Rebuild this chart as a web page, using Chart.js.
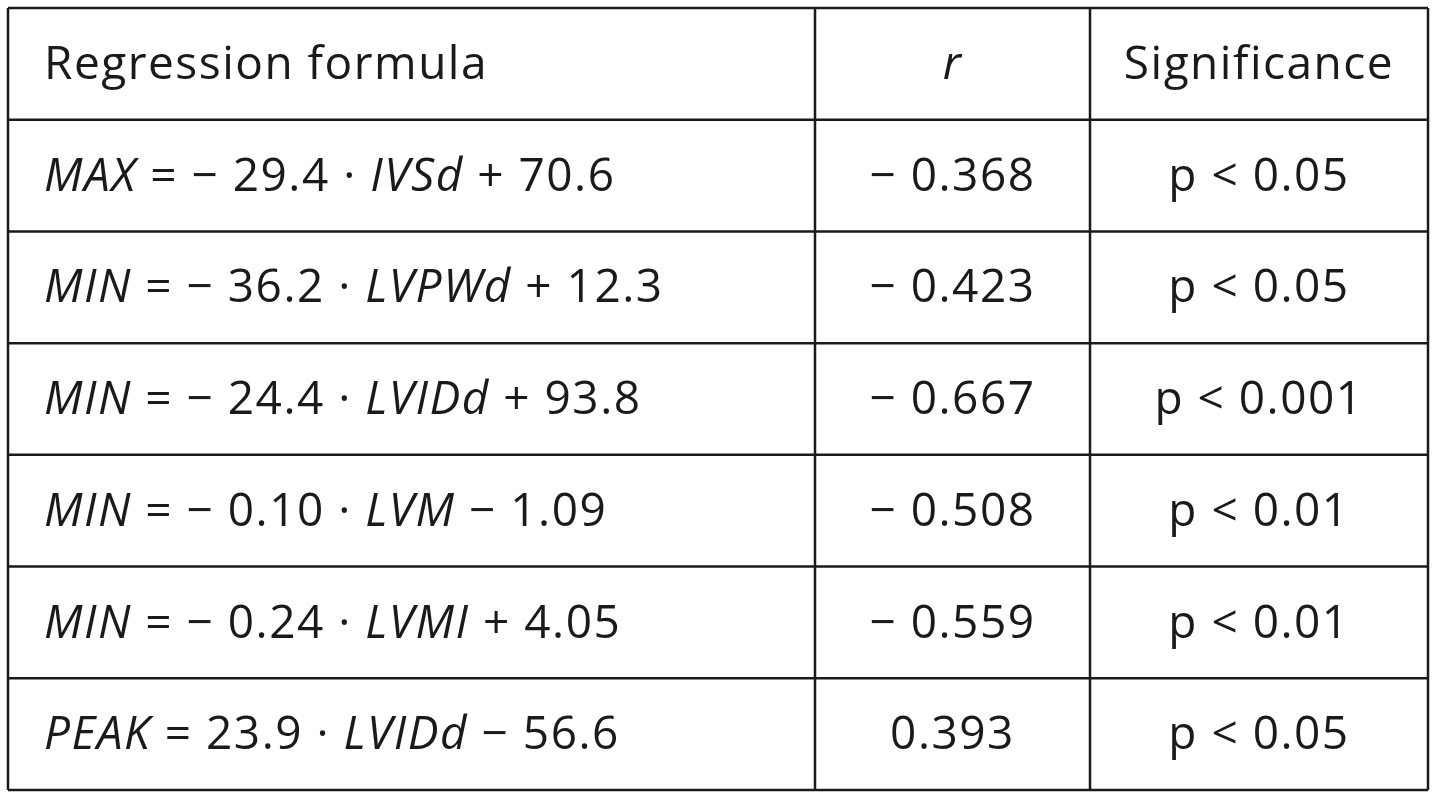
<!DOCTYPE html>
<html>
<head>
<meta charset="utf-8">
<script src="https://cdn.jsdelivr.net/npm/chart.js@4.4.1/dist/chart.umd.min.js"></script>
<style>
  html, body { margin: 0; padding: 0; background: #fff; }
  #wrap { width: 1437px; height: 800px; }
</style>
</head>
<body>
<div id="wrap"><canvas id="c"></canvas></div>
<script>
// table content; segments flagged true are italic
const headers = [[['Regression formula', false]], [['r', true]], [['Significance', false]]];
const formulas = [
  [['MAX', true], [' = − 29.4 · ', false], ['IVSd', true], [' + 70.6', false]],
  [['MIN', true], [' = − 36.2 · ', false], ['LVPWd', true], [' + 12.3', false]],
  [['MIN', true], [' = − 24.4 · ', false], ['LVIDd', true], [' + 93.8', false]],
  [['MIN', true], [' = − 0.10 · ', false], ['LVM', true], [' − 1.09', false]],
  [['MIN', true], [' = − 0.24 · ', false], ['LVMI', true], [' + 4.05', false]],
  [['PEAK', true], [' = 23.9 · ', false], ['LVIDd', true], [' − 56.6', false]]
];
const rValues = ['− 0.368', '− 0.423', '− 0.667', '− 0.508', '− 0.559', '0.393'];
const significance = ['p < 0.05', 'p < 0.05', 'p < 0.001', 'p < 0.01', 'p < 0.01', 'p < 0.05'];

const rowLabels = ['header'].concat(formulas.map((f, i) => 'row' + i));
const colEdges = [0, 807, 1082, 1420];
const FONT = '"Open Sans", "Noto Sans", sans-serif';
const SIZE = 46;
const SPACING = '1.5px';

function setFont(ctx, it) {
  ctx.font = (it ? 'italic ' : '') + SIZE + 'px ' + FONT;
  ctx.letterSpacing = SPACING;
}
function segWidth(ctx, segs) {
  let w = 0;
  segs.forEach(([t, it]) => { setFont(ctx, it); w += ctx.measureText(t).width; });
  return w;
}
function drawSegs(ctx, segs, x, y) {
  segs.forEach(([t, it]) => {
    setFont(ctx, it);
    ctx.fillText(t, x, y);
    x += ctx.measureText(t).width;
  });
}

const tablePlugin = {
  id: 'table',
  afterDraw(chart) {
    const ctx = chart.ctx, xs = chart.scales.x, ys = chart.scales.y;
    const step = ys.getPixelForValue(1) - ys.getPixelForValue(0);
    const xe = colEdges.map(v => xs.getPixelForValue(v));
    ctx.save();
    ctx.strokeStyle = '#1a1a1a';
    ctx.lineWidth = 2.5;
    for (let i = 0; i <= rowLabels.length; i++) {
      const y = ys.getPixelForValue(0) - step / 2 + i * step;
      ctx.beginPath(); ctx.moveTo(xe[0], y); ctx.lineTo(xe[3], y); ctx.stroke();
    }
    const top = ys.getPixelForValue(0) - step / 2, bot = top + step * rowLabels.length;
    xe.forEach(x => { ctx.beginPath(); ctx.moveTo(x, top); ctx.lineTo(x, bot); ctx.stroke(); });

    ctx.fillStyle = '#1a1a1a';
    ctx.textBaseline = 'middle';
    ctx.textAlign = 'left';
    const rows = [headers].concat(formulas.map((f, i) => [f, [[rValues[i], false]], [[significance[i], false]]]));
    rows.forEach((row, i) => {
      const y = ys.getPixelForValue(i) + 2;
      drawSegs(ctx, row[0], xe[0] + 36, y);
      for (let c = 1; c < 3; c++) {
        const w = segWidth(ctx, row[c]);
        drawSegs(ctx, row[c], (xe[c] + xe[c + 1]) / 2 - w / 2, y);
      }
    });
    ctx.restore();
  }
};

new Chart(document.getElementById('c'), {
  type: 'scatter',
  data: { labels: rowLabels, datasets: [{ data: [] }] },
  options: {
    responsive: true,
    maintainAspectRatio: false,
    animation: false,
    layout: { padding: { left: 8, right: 9, top: 8, bottom: 10 } },
    plugins: { legend: { display: false }, tooltip: { enabled: false } },
    scales: {
      x: { type: 'linear', min: colEdges[0], max: colEdges[3], display: false },
      y: { type: 'category', labels: rowLabels, offset: true, display: false }
    }
  },
  plugins: [tablePlugin]
});
</script>
</body>
</html>
